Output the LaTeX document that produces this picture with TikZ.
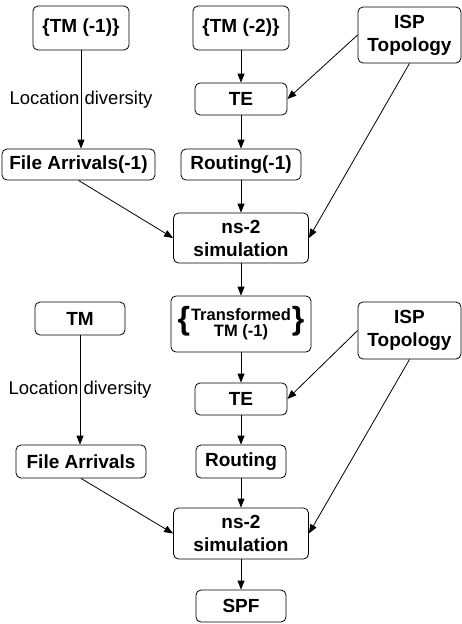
\documentclass[tikz,border=0pt]{standalone}
\usepackage{fontspec}
\setmainfont{Liberation Sans}
\usetikzlibrary{arrows.meta}
\begin{document}
\begin{tikzpicture}[x=1pt,y=-1pt,
  box/.style={draw, rounded corners=5pt, line width=0.8pt, font=\fontsize{19}{23}\selectfont\bfseries, align=center, inner sep=0pt},
  arr/.style={-{Triangle[length=9pt,width=7pt]}, line width=0.8pt},
  lbl/.style={font=\fontsize{18.5}{22}\selectfont}]
\useasboundingbox (0,0) rectangle (462,624);
% top half
\node[box, minimum width=96pt, minimum height=44pt] (tm1) at (81,28) {\{TM (-1)\}};
\node[box, minimum width=96pt, minimum height=44pt] (tm2) at (241,28) {\{TM (-2)\}};
\node[box, minimum width=103pt, minimum height=56pt] (isp1) at (409.5,35) {ISP\\Topology};
\node[box, minimum width=92pt, minimum height=32pt] (te1) at (241,99) {TE};
\node[box, minimum width=153pt, minimum height=31pt] (fa1) at (78.5,164.5) {File Arrivals(-1)};
\node[box, minimum width=120pt, minimum height=31pt] (r1) at (241,164.5) {Routing(-1)};
\node[box, minimum width=135pt, minimum height=50pt] (ns1) at (241,238) {ns-2\\simulation};
% bottom half
\node[box, minimum width=90pt, minimum height=33pt] (tm) at (80,318.5) {TM};
\node[box, minimum width=140pt, minimum height=56pt] (ttm) at (241,324)
  {{\fontsize{32}{32}\selectfont\{}\hspace{1pt}{\fontsize{16.5}{18}\selectfont\begin{tabular}{@{}c@{}}Transformed\\[-2pt]TM (-1)\end{tabular}}\hspace{1pt}{\fontsize{32}{32}\selectfont\}}};
\node[box, minimum width=103pt, minimum height=57pt] (isp2) at (409.5,330.5) {ISP\\Topology};
\node[box, minimum width=92pt, minimum height=32pt] (te2) at (241,399) {TE};
\node[box, minimum width=130pt, minimum height=33pt] (fa) at (81,461.5) {File Arrivals};
\node[box, minimum width=90pt, minimum height=33pt] (r) at (241,461.5) {Routing};
\node[box, minimum width=135pt, minimum height=51pt] (ns2) at (241,533.5) {ns-2\\simulation};
\node[box, minimum width=90pt, minimum height=32pt] (spf) at (241,606) {SPF};
% connectors top
\draw[arr] (tm1.south) -- node[lbl] {Location diversity} (tm1.south |- fa1.north);
\draw[arr] (tm2) -- (te1);
\draw[arr] (te1) -- (r1);
\draw[arr] (r1) -- (ns1);
\draw[arr] (isp1.west) -- (te1.east);
\draw[arr] (isp1.south) -- (ns1.east);
\draw[arr] (fa1.south) -- (ns1.west);
% connectors bottom
\draw[arr] (ns1) -- (ttm);
\draw[arr] (ttm) -- (te2);
\draw[arr] (te2) -- (r);
\draw[arr] (r) -- (ns2);
\draw[arr] (ns2) -- (spf);
\draw[arr] (isp2.west) -- (te2.east);
\draw[arr] (isp2.south) -- (ns2.east);
\draw[arr] (tm.south) -- node[lbl] {Location diversity} (tm.south |- fa.north);
\draw[arr] (fa.south) -- (ns2.west);
\end{tikzpicture}
\end{document}
